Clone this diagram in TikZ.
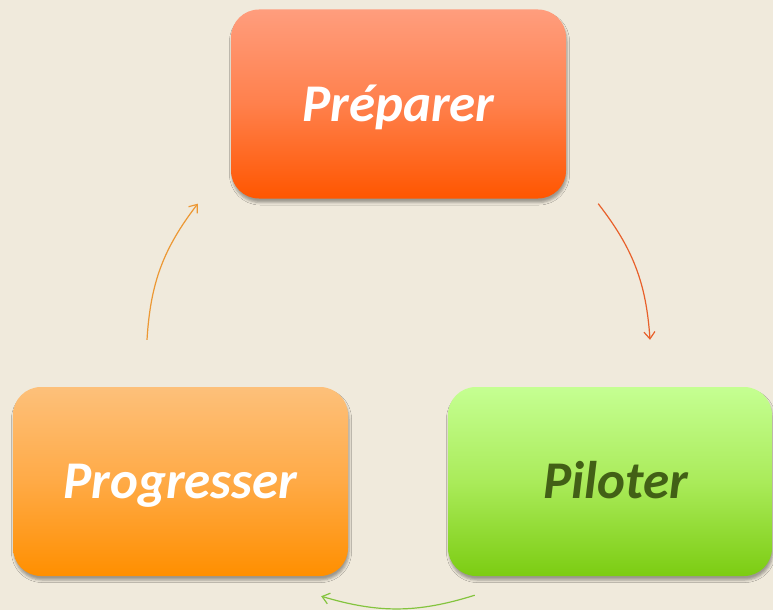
\documentclass[tikz,border=0pt]{standalone}
\usepackage{fontspec}
\setmainfont{Carlito}
\usetikzlibrary{arrows.meta,shadows.blur}

\definecolor{paper}{RGB}{240,234,220}
\definecolor{prepTop}{RGB}{255,157,125}
\definecolor{prepMid}{RGB}{255,128,76}
\definecolor{prepBot}{RGB}{255,86,0}
\definecolor{progTop}{RGB}{253,192,122}
\definecolor{progMid}{RGB}{255,170,70}
\definecolor{progBot}{RGB}{255,143,0}
\definecolor{pilTop}{RGB}{197,255,146}
\definecolor{pilMid}{RGB}{170,235,90}
\definecolor{pilBot}{RGB}{124,204,18}
\definecolor{pilText}{RGB}{66,96,22}
\definecolor{arrRed}{RGB}{232,96,42}
\definecolor{arrOrange}{RGB}{236,152,52}
\definecolor{arrGreen}{RGB}{132,196,62}

\tikzset{
  phase/.style={
    rounded corners=28pt, minimum height=189pt,
    text height=34pt, text depth=0pt, inner sep=0pt,
    font=\fontsize{53}{62}\selectfont\bfseries\itshape,
    blur shadow={shadow xshift=1pt, shadow yshift=-4pt,
                 shadow blur radius=2.5pt, shadow opacity=35}
  },
  cycle/.style={line width=1.2pt, -{Straight Barb[length=7pt,width=11pt]}},
}

\begin{document}
\begin{tikzpicture}[x=1pt, y=-1pt]
  % page and background
  \fill[paper] (0,0) rectangle (773,610);
  \useasboundingbox (0,0) rectangle (773,610);

  % the three phases
  \node[phase, minimum width=335pt, text=white,
        top color=prepTop, bottom color=prepBot, middle color=prepMid]
        (prep) at (398.5,104) {Préparer};
  \node[phase, minimum width=335pt, text=white,
        top color=progTop, bottom color=progBot, middle color=progMid]
        (prog) at (180.5,481.5) {Progresser};
  \node[phase, minimum width=324pt, text=pilText,
        top color=pilTop, bottom color=pilBot, middle color=pilMid]
        (pilot) at (610,481.5) {\hspace*{11pt}Piloter};

  % cycle arrows
  \draw[cycle, arrRed]
    ([shift={(32,5)}]prep.south east) to[bend left=17]
    ([shift={(40,-47)}]pilot.north);
  \draw[cycle, arrGreen]
    ([shift={(27,19)}]pilot.south west) to[bend left=17]
    ([shift={(-27,20)}]prog.south east);
  \draw[cycle, arrOrange]
    ([shift={(-33.5,-47)}]prog.north) to[bend left=17]
    ([shift={(-33,5)}]prep.south west);
\end{tikzpicture}
\end{document}
